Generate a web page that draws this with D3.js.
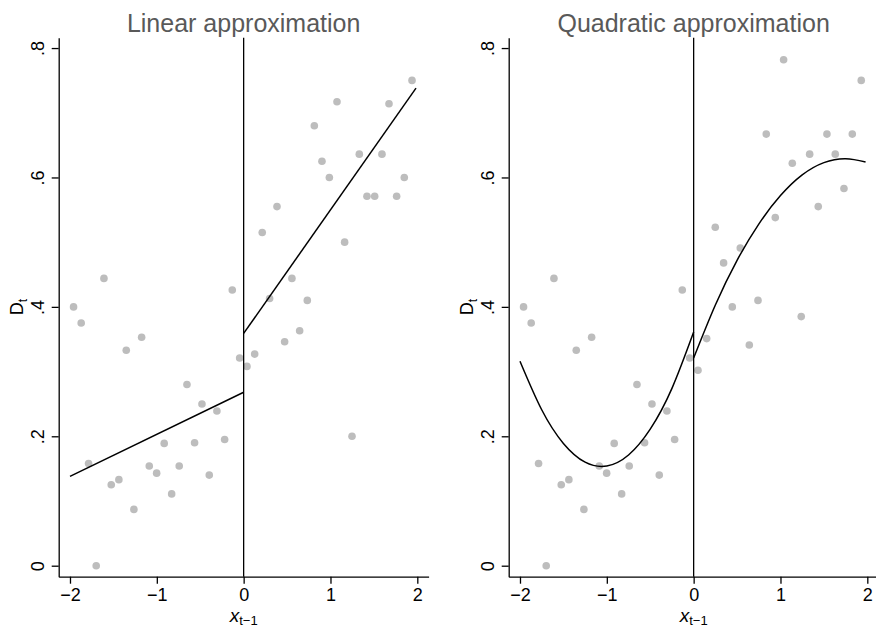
<!DOCTYPE html>
<html>
<head>
<meta charset="utf-8">
<script src="https://cdn.jsdelivr.net/npm/d3@7"></script>
<style>
  body { margin: 0; background: #fff; }
  svg { display: block; font-family: "Liberation Sans", Arial, Helvetica, sans-serif; }
</style>
</head>
<body>
<div id="chart"></div>
<script>
// x < 0 observations (shared by both panels)
const xNeg = [-1.959, -1.871, -1.786, -1.698, -1.609, -1.525, -1.437, -1.352, -1.264, -1.175, -1.087, -1.002,
  -0.915, -0.829, -0.742, -0.653, -0.565, -0.480, -0.396, -0.308, -0.219, -0.131, -0.046];
const yNeg = [0.400, 0.375, 0.158, 0.000, 0.444, 0.125, 0.133, 0.333, 0.087, 0.353, 0.154, 0.143,
  0.189, 0.111, 0.154, 0.280, 0.190, 0.250, 0.140, 0.239, 0.195, 0.426, 0.321];

// x > 0 observations, linear panel
const xPosLinear = [0.038, 0.127, 0.214, 0.299, 0.384, 0.472, 0.556, 0.645, 0.733, 0.814, 0.902, 0.987,
  1.075, 1.163, 1.248, 1.332, 1.420, 1.509, 1.593, 1.674, 1.762, 1.850, 1.939];
const yPosLinear = [0.308, 0.327, 0.515, 0.413, 0.555, 0.346, 0.444, 0.363, 0.410, 0.680, 0.625, 0.600,
  0.717, 0.500, 0.200, 0.636, 0.571, 0.571, 0.636, 0.714, 0.571, 0.600, 0.750];

// x > 0 observations, quadratic panel
const xPosQuad = [0.050, 0.150, 0.249, 0.345, 0.445, 0.537, 0.641, 0.741, 0.836, 0.940, 1.036, 1.136,
  1.239, 1.336, 1.435, 1.535, 1.631, 1.731, 1.827, 1.930];
const yPosQuad = [0.302, 0.351, 0.523, 0.468, 0.400, 0.491, 0.341, 0.410, 0.667, 0.538, 0.782, 0.622,
  0.385, 0.636, 0.555, 0.667, 0.636, 0.583, 0.667, 0.750];

// fitted lines
const linLeftX = [-2, 0];
const linLeftY = [0.138, 0.268];
const linRightX = [0, 1.985];
const linRightY = [0.359, 0.738];

const quadLeftX = [-2, -1.75, -1.5, -1.25, -1, -0.75, -0.5, -0.25, 0];
const quadLeftY = [0.316, 0.241, 0.189, 0.160, 0.154, 0.171, 0.211, 0.274, 0.361];
const quadRightX = [0, 0.25, 0.5, 0.75, 1, 1.25, 1.5, 1.75, 1.98];
const quadRightY = [0.321, 0.403, 0.472, 0.528, 0.572, 0.604, 0.623, 0.629, 0.624];

const xTicks = [-2, -1, 0, 1, 2];
const yTicks = [0, 0.2, 0.4, 0.6, 0.8];
const yTickLabels = ['0', '.2', '.4', '.6', '.8'];
const titles = ['Linear approximation', 'Quadratic approximation'];

const width = 876;
const height = 628;
const svg = d3.select('#chart')
  .append('svg')
    .attr('width', width)
    .attr('height', height);

const zip = (xs, ys) => xs.map((x, i) => [x, ys[i]]);

const y = d3.scaleLinear()
    .domain([-0.017, 0.816])
    .range([576.7, 37.7]);

function drawPanel(left, title, points, fits) {
  const x = d3.scaleLinear()
      .domain([-2.13, 2.13])
      .range([left, left + 369.9]);
  const g = svg.append('g');

  // title
  g.append('text')
      .attr('x', (x.range()[0] + x.range()[1]) / 2)
      .attr('y', 32)
      .attr('text-anchor', 'middle')
      .attr('font-size', 25)
      .attr('fill', '#595959')
      .text(title);

  // points
  g.selectAll('.dot')
    .data(points)
    .join('circle')
      .attr('class', 'dot')
      .attr('cx', d => x(d[0]))
      .attr('cy', d => y(d[1]))
      .attr('r', 3.8)
      .attr('fill', '#bdbdbd');

  // vertical line at zero
  g.append('line')
      .attr('x1', x(0)).attr('x2', x(0))
      .attr('y1', y.range()[0]).attr('y2', y.range()[1])
      .attr('stroke', '#000')
      .attr('stroke-width', 1.3);

  // fitted segments
  const line = d3.line()
      .x(d => x(d[0]))
      .y(d => y(d[1]))
      .curve(d3.curveNatural);
  fits.forEach(f => {
    g.append('path')
        .attr('d', line(f))
        .attr('fill', 'none')
        .attr('stroke', '#000')
        .attr('stroke-width', 1.5);
  });

  // x axis
  const xAxis = g.append('g')
      .attr('transform', `translate(0,${y.range()[0]})`)
      .call(d3.axisBottom(x).tickValues(xTicks).tickFormat(d3.format('d'))
        .tickSize(7).tickSizeOuter(0).tickPadding(5));
  xAxis.selectAll('text').attr('font-size', 18).attr('fill', '#000').attr('font-family', null);
  xAxis.selectAll('line, path').attr('stroke', '#000').attr('stroke-width', 1.3);

  // y axis with rotated labels
  const yAxis = g.append('g')
      .attr('transform', `translate(${left},0)`)
      .call(d3.axisLeft(y).tickValues(yTicks).tickSize(7).tickSizeOuter(0)
        .tickFormat((d, i) => yTickLabels[i]));
  yAxis.selectAll('text')
      .attr('font-size', 18)
      .attr('fill', '#000')
      .attr('font-family', null)
      .attr('x', null)
      .attr('dy', null)
      .attr('text-anchor', 'middle')
      .attr('transform', 'translate(-15,0) rotate(-90)');
  yAxis.selectAll('line, path').attr('stroke', '#000').attr('stroke-width', 1.3);

  // axis titles
  const yTitle = g.append('text')
      .attr('transform', `translate(${left - 36},${(y.range()[0] + y.range()[1]) / 2}) rotate(-90)`)
      .attr('text-anchor', 'middle')
      .attr('font-size', 18);
  yTitle.append('tspan').text('D');
  yTitle.append('tspan').attr('font-size', 12).attr('dy', 4).text('t');

  const xTitle = g.append('text')
      .attr('x', x(0))
      .attr('y', y.range()[0] + 45)
      .attr('text-anchor', 'middle')
      .attr('font-size', 19);
  xTitle.append('tspan').attr('font-style', 'italic').text('x');
  xTitle.append('tspan').attr('font-size', 13).attr('dy', 3).text('t\u22121');
}

const negPoints = zip(xNeg, yNeg);

drawPanel(58.7, titles[0],
  negPoints.concat(zip(xPosLinear, yPosLinear)),
  [zip(linLeftX, linLeftY), zip(linRightX, linRightY)]);

drawPanel(508.7, titles[1],
  negPoints.concat(zip(xPosQuad, yPosQuad)),
  [zip(quadLeftX, quadLeftY), zip(quadRightX, quadRightY)]);
</script>
</body>
</html>
